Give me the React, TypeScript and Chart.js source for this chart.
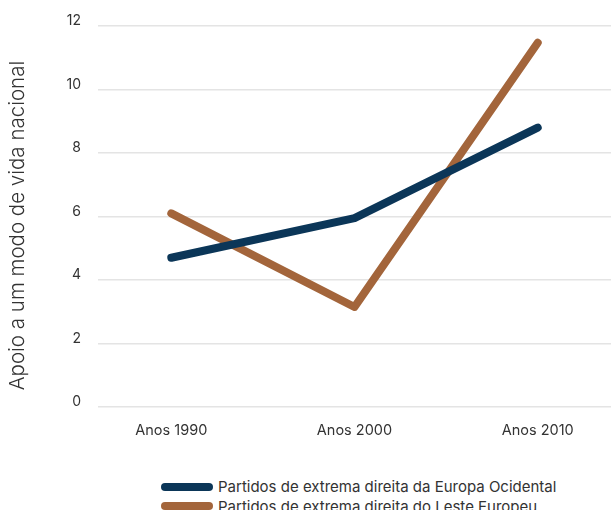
import React, { useEffect, useRef } from "react";
import { Chart, registerables } from "chart.js";

Chart.register(...registerables);

const categories = ["Anos 1990", "Anos 2000", "Anos 2010"];
const westernEurope = [4.7, 5.95, 8.8];
const easternEurope = [6.1, 3.15, 11.47];
const seriesNames = [
  "Partidos de extrema direita da Europa Ocidental",
  "Partidos de extrema direita do Leste Europeu",
];
const yTicks = [0, 2, 4, 6, 8, 10, 12];
const yTitle = "Apoio a um modo de vida nacional";

const BLUE = "#0b3658";
const BROWN = "#a3653b";
const TEXT = "#333333";
const FONT = "Inter, 'Noto Sans', sans-serif";

const yTitlePlugin = {
  id: "yTitlePlugin",
  afterDraw(chart: any) {
    const ctx = chart.ctx;
    const area = chart.chartArea;
    ctx.save();
    ctx.translate(18, (area.top + area.bottom) / 2 + 9);
    ctx.rotate(-Math.PI / 2);
    ctx.font = `300 20.5px ${FONT}`;
    ctx.fillStyle = TEXT;
    ctx.textAlign = "center";
    ctx.textBaseline = "middle";
    ctx.fillText(yTitle, 0, 0);
    ctx.restore();
  },
};

export default function App() {
  const ref = useRef<HTMLCanvasElement | null>(null);

  useEffect(() => {
    if (!ref.current) return;
    const chart = new Chart(ref.current, {
      type: "line",
      data: {
        datasets: [
          {
            label: seriesNames[0],
            data: westernEurope.map((v, i) => ({ x: i, y: v })),
            borderColor: BLUE,
            backgroundColor: BLUE,
            borderWidth: 8,
            borderCapStyle: "round",
            borderJoinStyle: "round",
            pointRadius: 0,
            tension: 0,
          },
          {
            label: seriesNames[1],
            data: easternEurope.map((v, i) => ({ x: i, y: v })),
            borderColor: BROWN,
            backgroundColor: BROWN,
            borderWidth: 8,
            borderCapStyle: "round",
            borderJoinStyle: "round",
            pointRadius: 0,
            tension: 0,
          },
        ],
      },
      options: {
        animation: false,
        responsive: false,
        maintainAspectRatio: false,
        layout: { padding: { top: 26, right: 0, bottom: 13, left: 0 } },
        plugins: {
          legend: { display: false },
          tooltip: { enabled: false },
        },
        scales: {
          x: {
            type: "linear",
            min: -0.4,
            max: 2.4,
            grid: { display: false, drawTicks: false },
            border: { display: false },
            afterBuildTicks: (scale: any) => {
              scale.ticks = categories.map((_, i) => ({ value: i }));
            },
            afterFit: (scale: any) => {
              scale.height = 40;
            },
            ticks: {
              autoSkip: false,
              maxRotation: 0,
              padding: 15,
              color: TEXT,
              font: { family: FONT, size: 14.5 },
              callback: (v: any) => categories[Math.round(Number(v))] ?? "",
            },
          },
          y: {
            min: 0,
            max: 12,
            afterBuildTicks: (scale: any) => {
              scale.ticks = yTicks.map((v) => ({ value: v }));
            },
            afterFit: (scale: any) => {
              scale.width = 98;
            },
            grid: { color: "#e4e4e4", lineWidth: 1.5, drawTicks: false },
            border: { display: false },
            ticks: {
              padding: 17,
              labelOffset: -5,
              color: TEXT,
              font: { family: FONT, size: 14 },
            },
            title: { display: false },
          },
        },
      },
      plugins: [yTitlePlugin],
    });
    return () => chart.destroy();
  }, []);

  const legendColors = [BLUE, BROWN];

  return (
    <div
      style={{
        position: "fixed",
        left: 0,
        top: 0,
        width: 611,
        height: 510,
        overflow: "hidden",
        background: "#fff",
      }}
    >
      <canvas ref={ref} width={611} height={460} style={{ display: "block" }} />
      <div
        style={{
          position: "absolute",
          left: 161,
          top: 477,
          fontFamily: FONT,
          fontSize: 15,
          color: TEXT,
          lineHeight: "19.5px",
        }}
      >
        {seriesNames.map((name, i) => (
          <div key={name} style={{ display: "flex", alignItems: "center", whiteSpace: "nowrap" }}>
            <span
              style={{
                display: "inline-block",
                width: 52,
                height: 8,
                borderRadius: 4,
                background: legendColors[i],
                marginRight: 5,
              }}
            />
            <span>{name}</span>
          </div>
        ))}
      </div>
    </div>
  );
}
